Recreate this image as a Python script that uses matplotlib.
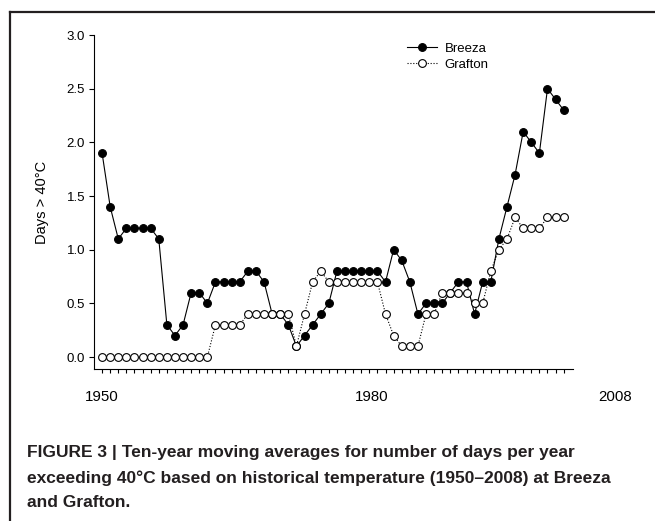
"""
Ten-year moving averages of days per year above 40 C, Breeza vs Grafton.
"""
import matplotlib
matplotlib.use('Agg')
import matplotlib.pyplot as plt
from matplotlib.lines import Line2D
from matplotlib import font_manager

# ── Data ──────────────────────────────────────────────────────────────────────
years = list(range(1950, 2008))

breeza = [1.9, 1.4, 1.1, 1.2, 1.2, 1.2, 1.2, 1.1, 0.3, 0.2,
          0.3, 0.6, 0.6, 0.5, 0.7, 0.7, 0.7, 0.7, 0.8, 0.8,
          0.7, 0.4, 0.4, 0.3, 0.1, 0.2, 0.3, 0.4, 0.5, 0.8,
          0.8, 0.8, 0.8, 0.8, 0.8, 0.7, 1.0, 0.9, 0.7, 0.4,
          0.5, 0.5, 0.5, 0.6, 0.7, 0.7, 0.4, 0.7, 0.7, 1.1,
          1.4, 1.7, 2.1, 2.0, 1.9, 2.5, 2.4, 2.3]

grafton = [0.0, 0.0, 0.0, 0.0, 0.0, 0.0, 0.0, 0.0, 0.0, 0.0,
           0.0, 0.0, 0.0, 0.0, 0.3, 0.3, 0.3, 0.3, 0.4, 0.4,
           0.4, 0.4, 0.4, 0.4, 0.1, 0.4, 0.7, 0.8, 0.7, 0.7,
           0.7, 0.7, 0.7, 0.7, 0.7, 0.4, 0.2, 0.1, 0.1, 0.1,
           0.4, 0.4, 0.6, 0.6, 0.6, 0.6, 0.5, 0.5, 0.8, 1.0,
           1.1, 1.3, 1.2, 1.2, 1.2, 1.3, 1.3, 1.3]

yticks = [0.0, 0.5, 1.0, 1.5, 2.0, 2.5, 3.0]
xlabels = ['1950', '1980', '2008']
xlabel_pos = [1949.9, 1983.3, 2013.3]   # where the labels sit in the original

caption = ("FIGURE 3 | Ten-year moving averages for number of days per year\n"
           "exceeding 40\u00b0C based on historical temperature (1950\u20132008) at Breeza\n"
           "and Grafton.")

# ── Fonts ─────────────────────────────────────────────────────────────────────
plt.rcParams['font.family'] = ['Liberation Sans', 'DejaVu Sans']
installed = {f.name for f in font_manager.fontManager.ttflist}
if 'Liberation Sans Narrow' in installed:
    cap_family, cap_size = ['Liberation Sans Narrow', 'Liberation Sans'], 14.0
else:
    cap_family, cap_size = ['Liberation Sans', 'DejaVu Sans'], 12.5

INK = '#231f20'

# ── Plot ──────────────────────────────────────────────────────────────────────
fig = plt.figure(figsize=(6.55, 5.21), dpi=100)
ax = fig.add_axes([0.1435, 0.2917, 0.7313, 0.6411])

ax.plot(years, breeza, color='black', lw=0.8, ls='-', marker='o', ms=5.6,
        mfc='black', mec='black', mew=0.8, label='Breeza', zorder=3)
ax.plot(years, grafton, color='black', lw=0.8, ls=(0, (1, 1.6)), marker='o', ms=5.6,
        mfc='white', mec='black', mew=0.8, label='Grafton', zorder=4)

ax.set_xlim(1949.0, 2008.15)
ax.set_ylim(-0.112, 3.0)

ax.spines['top'].set_visible(False)
ax.spines['right'].set_visible(False)
for sp in ('left', 'bottom'):
    ax.spines[sp].set_linewidth(0.8)

ax.set_yticks(yticks)
ax.set_yticklabels([f'{v:.1f}' for v in yticks])
ax.set_xticks(years)
ax.set_xticklabels([])
ax.tick_params(axis='y', direction='out', length=3.5, width=0.8, pad=3, labelsize=9.5)
ax.tick_params(axis='x', direction='out', length=3.2, width=0.8)

for lab, pos in zip(xlabels, xlabel_pos):
    ax.text(pos, -0.084, lab, transform=ax.get_xaxis_transform(),
            ha='center', va='center', fontsize=10.8)

ax.set_ylabel('Days > 40\u00b0C', fontsize=10.5)
ax.yaxis.set_label_coords(-0.094, 0.5)

ax.legend(loc='upper left', bbox_to_anchor=(0.653, 0.978), frameon=False,
          fontsize=9.5, numpoints=1, handlelength=2.3, handletextpad=0.55,
          labelspacing=0.3, borderpad=0, borderaxespad=0)

# frame lines on the left and top of the figure panel
fig.add_artist(Line2D([10 / 655, 10 / 655], [0, 1 - 12 / 521], color=INK, lw=1.6,
                      transform=fig.transFigure))
fig.add_artist(Line2D([10 / 655, 1], [1 - 12 / 521, 1 - 12 / 521], color=INK, lw=1.6,
                      transform=fig.transFigure))

fig.text(27 / 655, 1 - 445 / 521, caption, ha='left', va='top', color=INK,
         fontsize=cap_size, fontweight='bold', family=cap_family, linespacing=1.8)

fig.savefig('out.png', dpi=100, facecolor='white')
